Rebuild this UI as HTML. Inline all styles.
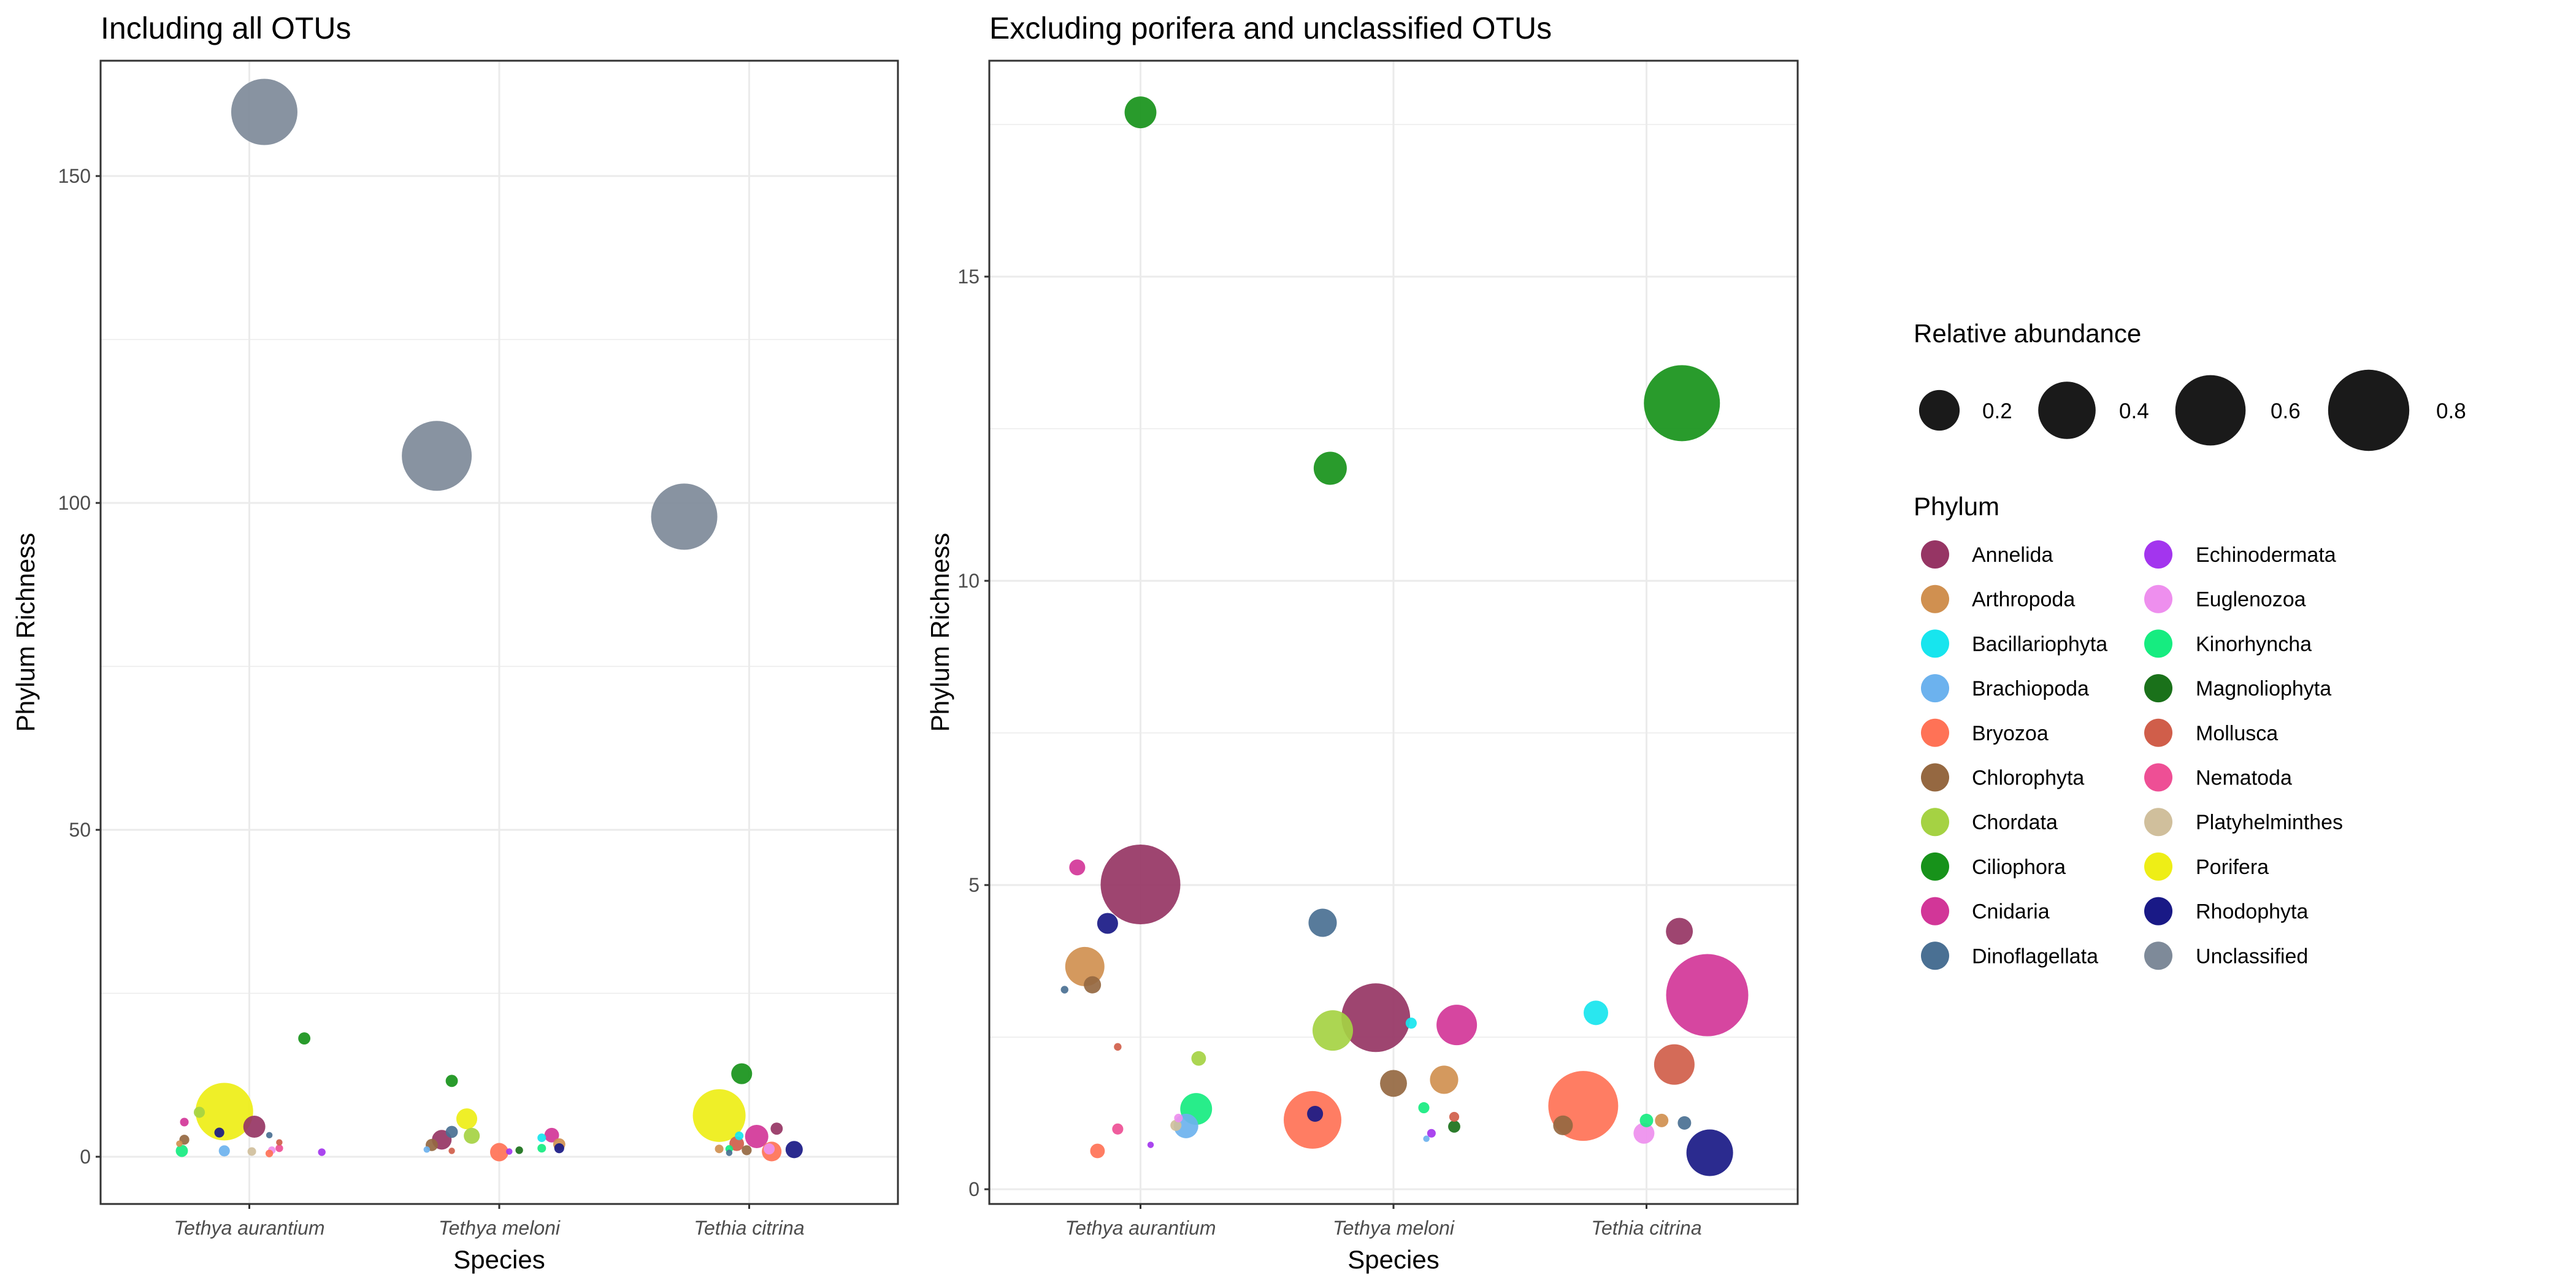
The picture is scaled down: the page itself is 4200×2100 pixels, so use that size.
<!DOCTYPE html>
<html><head><meta charset="utf-8"><style>
html,body{margin:0;padding:0;background:#fff;}
svg{display:block;font-family:"Liberation Sans",Arial,sans-serif;}
</style></head><body>
<svg id="chart" width="4200" height="2100" viewBox="0 0 4200 2100" xmlns="http://www.w3.org/2000/svg">
<rect x="0" y="0" width="4200" height="2100" fill="#fff"/>
<g id="legend"></g>
</svg>
<script>
const speciesNames = ["Tethya aurantium","Tethya meloni","Tethia citrina"];
const phylumNames = ["Annelida","Arthropoda","Bacillariophyta","Brachiopoda","Bryozoa","Chlorophyta","Chordata","Ciliophora","Cnidaria","Dinoflagellata","Echinodermata","Euglenozoa","Kinorhyncha","Magnoliophyta","Mollusca","Nematoda","Platyhelminthes","Porifera","Rhodophyta","Unclassified"];
const phylumColors = ["#963564","#D09050","#17E5EE","#6CB2EE","#FF7256","#956841","#A5D243","#17921A","#D23698","#4A7093","#A335EE","#EE8FEE","#16EC80","#1A711A","#D05E4A","#EE4F95","#D0BF9C","#EEEE16","#191986","#7E8A99"];
const sizeLegendValues = [0.2,0.4,0.6,0.8];
const leftTicks = [0,50,100,150];
const rightTicks = [0,5,10,15];

// Left panel (all OTUs)
const leftSpecies = [0,0,0,0,0,0,0,0,0,0,0,0,0,0,0,0,0,0, 1,1,1,1,1,1,1,1,1,1,1,1,1,1,1,1,1, 2,2,2,2,2,2,2,2,2,2,2,2,2,2];
const leftPhylum = ["Unclassified","Ciliophora","Porifera","Chordata","Annelida","Cnidaria","Rhodophyta","Dinoflagellata","Chlorophyta","Mollusca","Arthropoda","Kinorhyncha","Brachiopoda","Platyhelminthes","Euglenozoa","Nematoda","Bryozoa","Echinodermata",
 "Unclassified","Ciliophora","Porifera","Dinoflagellata","Chordata","Annelida","Chlorophyta","Mollusca","Brachiopoda","Bryozoa","Echinodermata","Magnoliophyta","Kinorhyncha","Bacillariophyta","Cnidaria","Arthropoda","Rhodophyta",
 "Unclassified","Ciliophora","Porifera","Annelida","Cnidaria","Bacillariophyta","Mollusca","Arthropoda","Kinorhyncha","Dinoflagellata","Chlorophyta","Euglenozoa","Bryozoa","Rhodophyta"];
const leftRichness = [159.8,18.1,6.9,6.8,4.6,5.3,3.7,3.3,2.6,2.2,2.0,0.9,0.9,0.8,1.0,1.3,0.5,0.7,
 107.2,11.6,5.8,3.8,3.2,2.6,1.8,0.9,1.1,0.7,0.8,1.0,1.3,2.9,3.3,1.9,1.3,
 97.9,12.7,6.3,4.3,3.1,3.2,2.0,1.2,1.2,0.6,1.0,1.2,0.8,1.1];
const leftAbundance = [0.533,0.018,0.403,0.015,0.059,0.009,0.012,0.005,0.012,0.005,0.005,0.018,0.015,0.009,0.007,0.007,0.007,0.007,
 0.593,0.018,0.053,0.018,0.031,0.047,0.018,0.005,0.005,0.041,0.005,0.007,0.009,0.009,0.026,0.018,0.012,
 0.533,0.053,0.338,0.018,0.066,0.009,0.026,0.009,0.007,0.005,0.012,0.015,0.047,0.036];
const leftJitter = [0.06,0.22,-0.10,-0.20,0.02,-0.26,-0.12,0.08,-0.26,0.12,-0.28,-0.27,-0.10,0.01,0.09,0.12,0.08,0.29,
 -0.25,-0.19,-0.13,-0.19,-0.11,-0.23,-0.27,-0.19,-0.29,0.00,0.04,0.08,0.17,0.17,0.21,0.24,0.24,
 -0.26,-0.03,-0.12,0.11,0.03,-0.04,-0.05,-0.12,-0.08,-0.08,-0.01,0.08,0.09,0.18];

// Right panel (excluding porifera & unclassified)
const rightSpecies = [0,0,0,0,0,0,0,0,0,0,0,0,0,0,0,0, 1,1,1,1,1,1,1,1,1,1,1,1,1,1,1, 2,2,2,2,2,2,2,2,2,2,2,2];
const rightPhylum = ["Ciliophora","Annelida","Cnidaria","Rhodophyta","Arthropoda","Chlorophyta","Dinoflagellata","Mollusca","Chordata","Kinorhyncha","Brachiopoda","Euglenozoa","Platyhelminthes","Nematoda","Bryozoa","Echinodermata",
 "Ciliophora","Dinoflagellata","Annelida","Chordata","Bacillariophyta","Cnidaria","Chlorophyta","Arthropoda","Bryozoa","Rhodophyta","Kinorhyncha","Mollusca","Magnoliophyta","Echinodermata","Brachiopoda",
 "Ciliophora","Annelida","Cnidaria","Bacillariophyta","Mollusca","Bryozoa","Chlorophyta","Kinorhyncha","Arthropoda","Dinoflagellata","Euglenozoa","Rhodophyta"];
const rightRichness = [17.70,5.01,5.29,4.37,3.66,3.36,3.28,2.34,2.15,1.32,1.04,1.17,1.05,0.99,0.63,0.73,
 11.85,4.38,2.82,2.61,2.73,2.70,1.74,1.80,1.14,1.24,1.34,1.19,1.03,0.92,0.83,
 12.92,4.24,3.19,2.90,2.05,1.37,1.05,1.13,1.13,1.09,0.92,0.60];
const rightAbundance = [0.123,0.772,0.031,0.053,0.187,0.036,0.007,0.007,0.026,0.123,0.073,0.009,0.015,0.015,0.026,0.005,
 0.133,0.097,0.573,0.199,0.015,0.199,0.088,0.097,0.403,0.031,0.015,0.012,0.018,0.009,0.005,
 0.702,0.088,0.820,0.073,0.199,0.593,0.047,0.022,0.022,0.022,0.053,0.264];
const rightJitter = [0.00,0.00,-0.25,-0.13,-0.22,-0.19,-0.30,-0.09,0.23,0.22,0.18,0.15,0.14,-0.09,-0.17,0.04,
 -0.25,-0.28,-0.07,-0.24,0.07,0.25,0.00,0.20,-0.32,-0.31,0.12,0.24,0.24,0.15,0.13,
 0.14,0.13,0.24,-0.20,0.11,-0.25,-0.33,0.00,0.06,0.15,-0.01,0.25];

const NS="http://www.w3.org/2000/svg";
const svg=document.getElementById('chart');
function el(tag,attrs,parent){const e=document.createElementNS(NS,tag);for(const k in attrs)e.setAttribute(k,attrs[k]);(parent||svg).appendChild(e);return e;}
function rOf(v){return 74*Math.sqrt(v);}
function colorOf(p){return phylumColors[phylumNames.indexOf(p)];}

function panel(cfg){
  const g=el('g',{});
  
  
  const L=cfg.left,R=cfg.right,T=99,B=1963;
  const ys=v=>cfg.y0-(v-0)*cfg.ppu;
  const xs=(i,j)=>(L+R)/2+(i-1+j)*cfg.spacing;
  // grids
  cfg.minor.forEach(v=>{el('line',{x1:L,x2:R,y1:ys(v),y2:ys(v),stroke:'#ebebeb','stroke-width':1.5},g);});
  cfg.ticks.forEach(v=>{el('line',{x1:L,x2:R,y1:ys(v),y2:ys(v),stroke:'#ebebeb','stroke-width':3},g);});
  speciesNames.forEach((s,i)=>{el('line',{x1:xs(i,0),x2:xs(i,0),y1:T,y2:B,stroke:'#ebebeb','stroke-width':3},g);});
  // points, large first
  const idx=cfg.abund.map((a,i)=>i).sort((a,b)=>cfg.abund[b]-cfg.abund[a]);
  idx.forEach(i=>{
    const c=el('circle',{cx:xs(cfg.species[i],cfg.jitter[i]),cy:ys(cfg.rich[i]),r:rOf(cfg.abund[i]),fill:colorOf(cfg.phylum[i]),'fill-opacity':0.92},g);
    
    
  });
  el('rect',{x:L,y:T,width:R-L,height:B-T,fill:'none',stroke:'#333','stroke-width':3},g);
  // y ticks
  cfg.ticks.forEach(v=>{
    el('line',{x1:L-8,x2:L,y1:ys(v),y2:ys(v),stroke:'#333','stroke-width':3},g);
    const t=el('text',{x:L-16,y:ys(v)+11,'text-anchor':'end','font-size':32,fill:'#4d4d4d'},g);
    t.textContent=v;
    
    
  });
  speciesNames.forEach((s,i)=>{
    el('line',{x1:xs(i,0),x2:xs(i,0),y1:B,y2:B+8,stroke:'#333','stroke-width':3},g);
    const t=el('text',{x:xs(i,0),y:B+50,'text-anchor':'middle','font-size':32,'font-style':'italic',fill:'#4d4d4d'},g);
    t.textContent=s;
    
    
  });
  const xt=el('text',{x:(L+R)/2,y:2068,'text-anchor':'middle','font-size':42,fill:'#000'},g);
  xt.textContent='Species';
  
  
  const yt=el('text',{x:cfg.ylabX,y:(T+B)/2,'text-anchor':'middle','font-size':42,fill:'#000',transform:'rotate(-90 '+cfg.ylabX+' '+((T+B)/2)+')'},g);
  yt.textContent='Phylum Richness';
  
  
  const tt=el('text',{x:L,y:63,'font-size':50,fill:'#000'},g);
  tt.textContent=cfg.title;
  
  
}

panel({name:'left-panel',title:'Including all OTUs',left:164,right:1464,y0:1886,ppu:10.66,spacing:407.5,ticks:leftTicks,minor:[25,75,125],
  species:leftSpecies,phylum:leftPhylum,rich:leftRichness,abund:leftAbundance,jitter:leftJitter,ylabX:56});
panel({name:'right-panel',title:'Excluding porifera and unclassified OTUs',left:1613,right:2931,y0:1939,ppu:99.2,spacing:412.5,ticks:rightTicks,minor:[2.5,7.5,12.5,17.5],
  species:rightSpecies,phylum:rightPhylum,rich:rightRichness,abund:rightAbundance,jitter:rightJitter,ylabX:1547});

// legend
const lg=document.getElementById('legend');
const lt=el('text',{x:3120,y:558,'font-size':42,fill:'#000'},lg);
lt.textContent='Relative abundance';


const sizeCx=[3162,3370,3604,3862];
const sizeLx=[3232,3455,3702,3972];
sizeLegendValues.forEach((v,i)=>{
  const c=el('circle',{cx:sizeCx[i],cy:669,r:rOf(v),fill:'#1a1a1a'},lg);
  
  
  const t=el('text',{x:sizeLx[i],y:682,'font-size':35,fill:'#000'},lg);
  t.textContent=v.toFixed(1);
  
  
});
const pt=el('text',{x:3120,y:840,'font-size':42,fill:'#000'},lg);
pt.textContent='Phylum';


phylumNames.forEach((p,i)=>{
  const col=Math.floor(i/10),row=i%10;
  const cy=904+row*72.7;
  const c=el('circle',{cx:col?3519:3155,cy:cy,r:23,fill:phylumColors[i]},lg);
  
  
  const t=el('text',{x:col?3580:3215,y:cy+12,'font-size':34,fill:'#000'},lg);
  t.textContent=p;
  
  
});
</script>
</body></html>
